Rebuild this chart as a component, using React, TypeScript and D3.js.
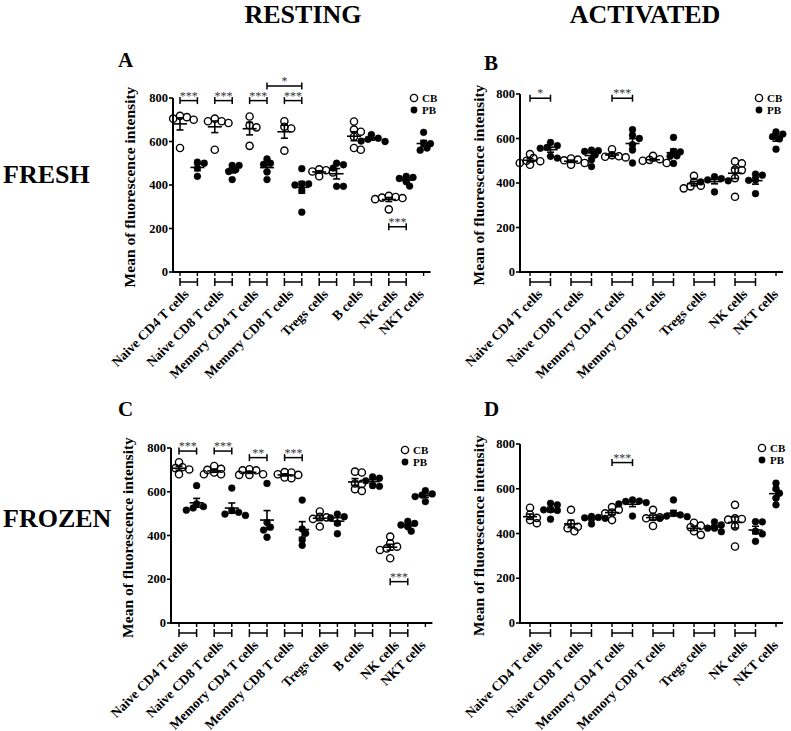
import React from 'react';
import * as d3 from 'd3';

// categories
const catsAll = ['Naive CD4 T cells', 'Naive CD8 T cells', 'Memory CD4 T cells', 'Memory CD8 T cells', 'Tregs cells', 'B cells', 'NK cells', 'NKT cells'];
const catsNoB = ['Naive CD4 T cells', 'Naive CD8 T cells', 'Memory CD4 T cells', 'Memory CD8 T cells', 'Tregs cells', 'NK cells', 'NKT cells'];
const yTicks = [0, 200, 400, 600, 800];

// A: fresh / resting  (NKT has PB only)
const freshRestCB = [
  [705, 718, 712, 700, 570],
  [693, 705, 685, 693, 562],
  [675, 715, 665, 580],
  [668, 660, 693, 558],
  [468, 472, 440, 462, 458],
  [645, 562, 692, 655, 570, 622],
  [345, 340, 350, 335, 288, 342],
];
const freshRestPB = [
  [505, 440, 500, 478],
  [490, 470, 425, 490, 462],
  [500, 425, 520, 495, 460],
  [475, 405, 405, 400, 375, 275],
  [493, 500, 478, 394, 394],
  [615, 632, 600, 602, 610],
  [430, 440, 395, 415, 435],
  [642, 592, 590, 560, 570],
];

// B: fresh / activated
const freshActCB = [
  [500, 530, 512, 482, 490, 498],
  [510, 502, 490, 482, 505],
  [520, 552, 518, 515, 525],
  [507, 522, 504, 490, 500],
  [388, 376, 432, 405, 385],
  [488, 497, 460, 458, 422, 338],
];
const freshActPB = [
  [568, 556, 582, 512, 520, 560],
  [542, 548, 545, 526, 474, 505],
  [615, 640, 572, 548, 490, 600],
  [605, 540, 542, 488, 520, 522],
  [428, 360, 420, 405, 414, 410],
  [440, 435, 414, 412, 352],
  [630, 620, 608, 598, 552],
];

// C: frozen / resting
const frozenRestCB = [
  [680, 712, 735, 702, 708],
  [718, 705, 680, 680, 688, 700],
  [698, 703, 698, 677, 677, 680],
  [680, 688, 690, 662, 665, 677],
  [441, 486, 510, 483, 476],
  [692, 612, 604, 688, 636, 638],
  [395, 341, 296, 349, 334, 364],
];
const frozenRestPB = [
  [532, 516, 526, 545, 628],
  [506, 492, 498, 514, 617],
  [638, 438, 460, 425, 392],
  [430, 562, 355, 380, 410],
  [486, 408, 498, 480, 456],
  [662, 668, 628, 625, 650],
  [455, 465, 420, 448, 440],
  [590, 605, 555, 578, 585],
];

// D: frozen / activated
const frozenActCB = [
  [446, 460, 515, 485, 470],
  [430, 410, 424, 506, 445],
  [518, 494, 506, 460, 490],
  [468, 434, 506, 475, 472],
  [428, 394, 410, 448, 435],
  [465, 468, 462, 528, 432, 342],
];
const frozenActPB = [
  [528, 535, 506, 464, 506, 503],
  [476, 472, 470, 443, 468],
  [543, 538, 550, 532, 478, 545],
  [550, 490, 483, 468, 475, 478],
  [424, 438, 452, 408, 424],
  [453, 452, 410, 398, 365],
  [600, 625, 580, 558, 528],
];

// significance brackets: [category, group, category, group, value, label]
type Sig = [string, string, string, string, number, string];
const sigA: Sig[] = [
  ['Naive CD4 T cells', 'CB', 'Naive CD4 T cells', 'PB', 788, '***'],
  ['Naive CD8 T cells', 'CB', 'Naive CD8 T cells', 'PB', 788, '***'],
  ['Memory CD4 T cells', 'CB', 'Memory CD4 T cells', 'PB', 788, '***'],
  ['Memory CD8 T cells', 'CB', 'Memory CD8 T cells', 'PB', 788, '***'],
  ['Memory CD4 T cells', 'PB', 'Memory CD8 T cells', 'PB', 855, '*'],
  ['NK cells', 'CB', 'NK cells', 'PB', 208, '***'],
];
const sigB: Sig[] = [
  ['Naive CD4 T cells', 'CB', 'Naive CD4 T cells', 'PB', 781, '*'],
  ['Memory CD4 T cells', 'CB', 'Memory CD4 T cells', 'PB', 781, '***'],
];
const sigC: Sig[] = [
  ['Naive CD4 T cells', 'CB', 'Naive CD4 T cells', 'PB', 786, '***'],
  ['Naive CD8 T cells', 'CB', 'Naive CD8 T cells', 'PB', 786, '***'],
  ['Memory CD4 T cells', 'CB', 'Memory CD4 T cells', 'PB', 756, '**'],
  ['Memory CD8 T cells', 'CB', 'Memory CD8 T cells', 'PB', 756, '***'],
  ['NK cells', 'CB', 'NK cells', 'PB', 189, '***'],
];
const sigD: Sig[] = [
  ['Memory CD4 T cells', 'CB', 'Memory CD4 T cells', 'PB', 717, '***'],
];

const FONT = '"Liberation Serif", "Times New Roman", serif';

interface PanelProps {
  letter: string;
  cats: string[];
  cb: number[][];
  pb: number[][];
  sigs: Sig[];
  axisX: number;
  y0: number;
  yTop: number;
  firstX: number;
  step: number;
  letterPos: [number, number];
  legendPos: [number, number];
  yLabelX: number;
  labelDx: number;
}

// prism-like scatter: spread points sideways only when they collide
function swarm(vals: number[], y: (v: number) => number, r: number): number[] {
  const order = d3.range(vals.length).sort((a, b) => vals[b] - vals[a]);
  const off = new Array(vals.length).fill(0);
  const placed: [number, number][] = [];
  const minD = r * 1.45;
  order.forEach(i => {
    const py = y(vals[i]);
    for (let k = 0; k < 14; k++) {
      const cand = k === 0 ? 0 : (k % 2 ? 1 : -1) * Math.ceil(k / 2) * r * 0.95;
      const ok = placed.every(([px, qy]) => (px - cand) ** 2 + (qy - py) ** 2 >= minD * minD);
      if (ok) { off[i] = cand; placed.push([cand, py]); break; }
    }
  });
  return off;
}

const Panel: React.FC<PanelProps> = p => {
  const keys: string[] = [];
  p.cats.forEach(c => {
    if (c !== 'NKT cells') keys.push(`${c}|CB`);
    keys.push(`${c}|PB`);
  });
  const x = d3.scalePoint<string>().domain(keys).range([p.firstX, p.firstX + p.step * (keys.length - 1)]);
  const y = d3.scaleLinear().domain([0, 800]).range([p.y0, p.yTop]);
  const xEnd = p.firstX + p.step * (keys.length - 1) + 7;
  const r = 3.6;

  const groups: { key: string; vals: number[]; open: boolean }[] = [];
  p.cats.forEach((c, i) => {
    if (c !== 'NKT cells') groups.push({ key: `${c}|CB`, vals: p.cb[i], open: true });
    groups.push({ key: `${c}|PB`, vals: p.pb[i], open: false });
  });

  const lw = 1.6;
  return (
    <g fontFamily={FONT}>
      <text x={p.letterPos[0]} y={p.letterPos[1]} fontSize={21} fontWeight="bold">{p.letter}</text>
      {/* y axis */}
      <line x1={p.axisX} x2={p.axisX} y1={y(0) + 1} y2={y(800)} stroke="#000" strokeWidth={2} />
      {yTicks.map(t => (
        <g key={t}>
          <line x1={p.axisX - 4} x2={p.axisX} y1={y(t)} y2={y(t)} stroke="#000" strokeWidth={1.6} />
          <text x={p.axisX - 5} y={y(t) + 4} fontSize={12.5} fontWeight="bold" textAnchor="end">{t}</text>
        </g>
      ))}
      <text transform={`translate(${p.yLabelX},${(y(0) + y(800)) / 2 + 2}) rotate(-90)`} fontSize={15.5} fontWeight="bold" textAnchor="middle">Mean of fluorescence intensity</text>
      {/* x axis */}
      <line x1={p.axisX - 1} x2={xEnd} y1={y(0)} y2={y(0)} stroke="#000" strokeWidth={2} />
      {keys.map(k => (
        <line key={k} x1={x(k)} x2={x(k)} y1={y(0)} y2={y(0) + 4} stroke="#000" strokeWidth={1.4} />
      ))}
      {p.cats.map(c => {
        const single = c === 'NKT cells';
        const cx = single ? (x(`${c}|PB`) as number) : ((x(`${c}|CB`) as number) + (x(`${c}|PB`) as number)) / 2;
        const by = y(0) + 10;
        return (
          <g key={c}>
            {!single && (
              <g stroke="#000" strokeWidth={1.5}>
                <line x1={x(`${c}|CB`)} x2={x(`${c}|PB`)} y1={by} y2={by} />
                <line x1={x(`${c}|CB`)} x2={x(`${c}|CB`)} y1={by - 4} y2={by + 4} />
                <line x1={x(`${c}|PB`)} x2={x(`${c}|PB`)} y1={by - 4} y2={by + 4} />
              </g>
            )}
            <text transform={`translate(${cx + p.labelDx},${y(0) + 23}) rotate(-45)`} fontSize={13.5} fontWeight="bold" textAnchor="end">{c}</text>
          </g>
        );
      })}
      {/* points */}
      {groups.map(g => {
        const gx = x(g.key) as number;
        const offs = swarm(g.vals, y, r);
        const m = d3.mean(g.vals) as number;
        const sem = (d3.deviation(g.vals) as number) / Math.sqrt(g.vals.length);
        return (
          <g key={g.key}>
            {g.vals.map((v, i) => (
              <circle key={i} cx={gx + offs[i]} cy={y(v)} r={g.open ? r : r - 0.2}
                fill={g.open ? 'none' : '#000'} stroke="#000" strokeWidth={g.open ? 1.4 : 0.5} />
            ))}
            <g stroke="#000" strokeWidth={lw}>
              <line x1={gx - 7} x2={gx + 7} y1={y(m)} y2={y(m)} />
              <line x1={gx} x2={gx} y1={y(m - sem)} y2={y(m + sem)} />
              <line x1={gx - 3.5} x2={gx + 3.5} y1={y(m + sem)} y2={y(m + sem)} />
              <line x1={gx - 3.5} x2={gx + 3.5} y1={y(m - sem)} y2={y(m - sem)} />
            </g>
          </g>
        );
      })}
      {/* significance */}
      {p.sigs.map((s, i) => {
        const x1 = x(`${s[0]}|${s[1]}`) as number;
        const x2 = x(`${s[2]}|${s[3]}`) as number;
        const sy = y(s[4]);
        return (
          <g key={i}>
            <g stroke="#000" strokeWidth={1.5}>
              <line x1={x1} x2={x2} y1={sy} y2={sy} />
              <line x1={x1} x2={x1} y1={sy - 3.5} y2={sy + 3.5} />
              <line x1={x2} x2={x2} y1={sy - 3.5} y2={sy + 3.5} />
            </g>
            <text x={(x1 + x2) / 2} y={sy - 1} fontSize={12} textAnchor="middle" fill="#333">{s[5]}</text>
          </g>
        );
      })}
      {/* legend */}
      <circle cx={p.legendPos[0]} cy={p.legendPos[1]} r={r} fill="none" stroke="#000" strokeWidth={1.4} />
      <text x={p.legendPos[0] + 8} y={p.legendPos[1] + 4} fontSize={11} fontWeight="bold">CB</text>
      <circle cx={p.legendPos[0]} cy={p.legendPos[1] + 12} r={r - 0.2} fill="#000" />
      <text x={p.legendPos[0] + 8} y={p.legendPos[1] + 16} fontSize={11} fontWeight="bold">PB</text>
    </g>
  );
};

export default function App() {
  return (
    <div style={{ position: 'absolute', left: 0, top: 0 }}>
      <svg width={791} height={731} style={{ display: 'block', background: '#fff' }}>
        <g fontFamily={FONT} fontWeight="bold" fontSize={26}>
          <text x={303} y={23} textAnchor="middle">RESTING</text>
          <text x={645} y={23} textAnchor="middle">ACTIVATED</text>
          <text x={3} y={183}>FRESH</text>
          <text x={3} y={527}>FROZEN</text>
        </g>
        <Panel letter="A" cats={catsAll} cb={freshRestCB} pb={freshRestPB} sigs={sigA}
          axisX={173} y0={272} yTop={98} firstX={180} step={17.4}
          letterPos={[118, 67]} legendPos={[414, 98]} yLabelX={135} labelDx={1} />
        <Panel letter="B" cats={catsNoB} cb={freshActCB} pb={freshActPB} sigs={sigB}
          axisX={520} y0={272} yTop={94} firstX={530} step={20.5}
          letterPos={[484, 70]} legendPos={[759, 98]} yLabelX={484} labelDx={3} />
        <Panel letter="C" cats={catsAll} cb={frozenRestCB} pb={frozenRestPB} sigs={sigC}
          axisX={171} y0={623} yTop={448} firstX={179} step={17.6}
          letterPos={[118, 416]} legendPos={[405, 450]} yLabelX={133} labelDx={1} />
        <Panel letter="D" cats={catsNoB} cb={frozenActCB} pb={frozenActPB} sigs={sigD}
          axisX={520} y0={623} yTop={444} firstX={530} step={20.5}
          letterPos={[484, 416]} legendPos={[762, 448]} yLabelX={484} labelDx={3} />
      </svg>
    </div>
  );
}
